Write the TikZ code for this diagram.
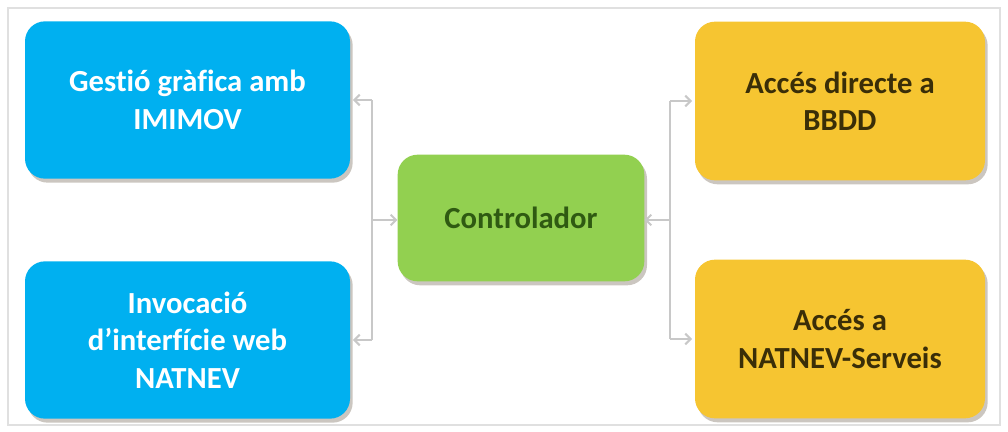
\documentclass[tikz,border=0pt]{standalone}
\usepackage{fontspec}
\setmainfont{Carlito}[Ligatures=NoCommon]
\usetikzlibrary{arrows.meta,shadows}
\definecolor{cblue}{HTML}{00B0F0}
\definecolor{cgreen}{HTML}{92D050}
\definecolor{cyellow}{HTML}{F6C531}
\definecolor{tgreen}{HTML}{2F5A12}
\definecolor{tyellow}{HTML}{3A2E08}
\definecolor{cline}{HTML}{C8C8C8}
\tikzset{
  box/.style={rectangle, rounded corners=15pt, align=center, font=\bfseries\fontsize{23}{28}\selectfont,
    drop shadow={shadow xshift=2pt, shadow yshift=-3pt, opacity=0.45, fill=gray!80!brown}},
  bluebox/.style={box, fill=cblue, text=white, minimum width=243.75pt, minimum height=118pt},
  greenbox/.style={box, fill=cgreen, text=tgreen, minimum width=185pt, minimum height=95pt},
  yellowbox/.style={box, fill=cyellow, text=tyellow, minimum width=217.5pt, minimum height=119pt},
  conn/.style={draw=cline, line width=1.5pt, -{Straight Barb[length=4pt,width=8pt]}},
  bar/.style={draw=cline, line width=1.5pt}
}
\begin{document}
\begin{tikzpicture}[x=0.75pt,y=-0.75pt]
\useasboundingbox (0,0) rectangle (1008,432);
\draw[draw=black!12, line width=0.8pt] (8,8) rectangle (1000,425);
\node[bluebox] (b1) at (187.5,100) {Gestió gràfica amb\\IMIMOV};
\node[bluebox] (b2) at (187.5,340) {Invocació\\d’interfície web\\NATNEV};
\node[greenbox] (g) at (521,218) {Controlador};
\node[yellowbox] (y1) at (840,101) {Accés directe a\\BBDD};
\node[yellowbox] (y2) at (840,339) {Accés a\\NATNEV-Serveis};
\coordinate (lj) at (372,220);
\coordinate (rj) at (670,220);
\draw[bar] (lj |- b1.east) -- (lj |- b2.east);
\draw[bar] (rj |- y1.west) -- (rj |- y2.west);
\draw[conn] (lj |- b1.east) -- ([xshift=2pt]b1.east);
\draw[conn] (lj |- b2.east) -- ([xshift=2pt]b2.east);
\draw[conn] (lj) -- (lj -| g.west);
\draw[conn] (rj |- y1.west) -- ([xshift=-2pt]y1.west);
\draw[conn] (rj |- y2.west) -- ([xshift=-2pt]y2.west);
\draw[conn] (rj) -- (rj -| g.east);
\end{tikzpicture}
\end{document}
